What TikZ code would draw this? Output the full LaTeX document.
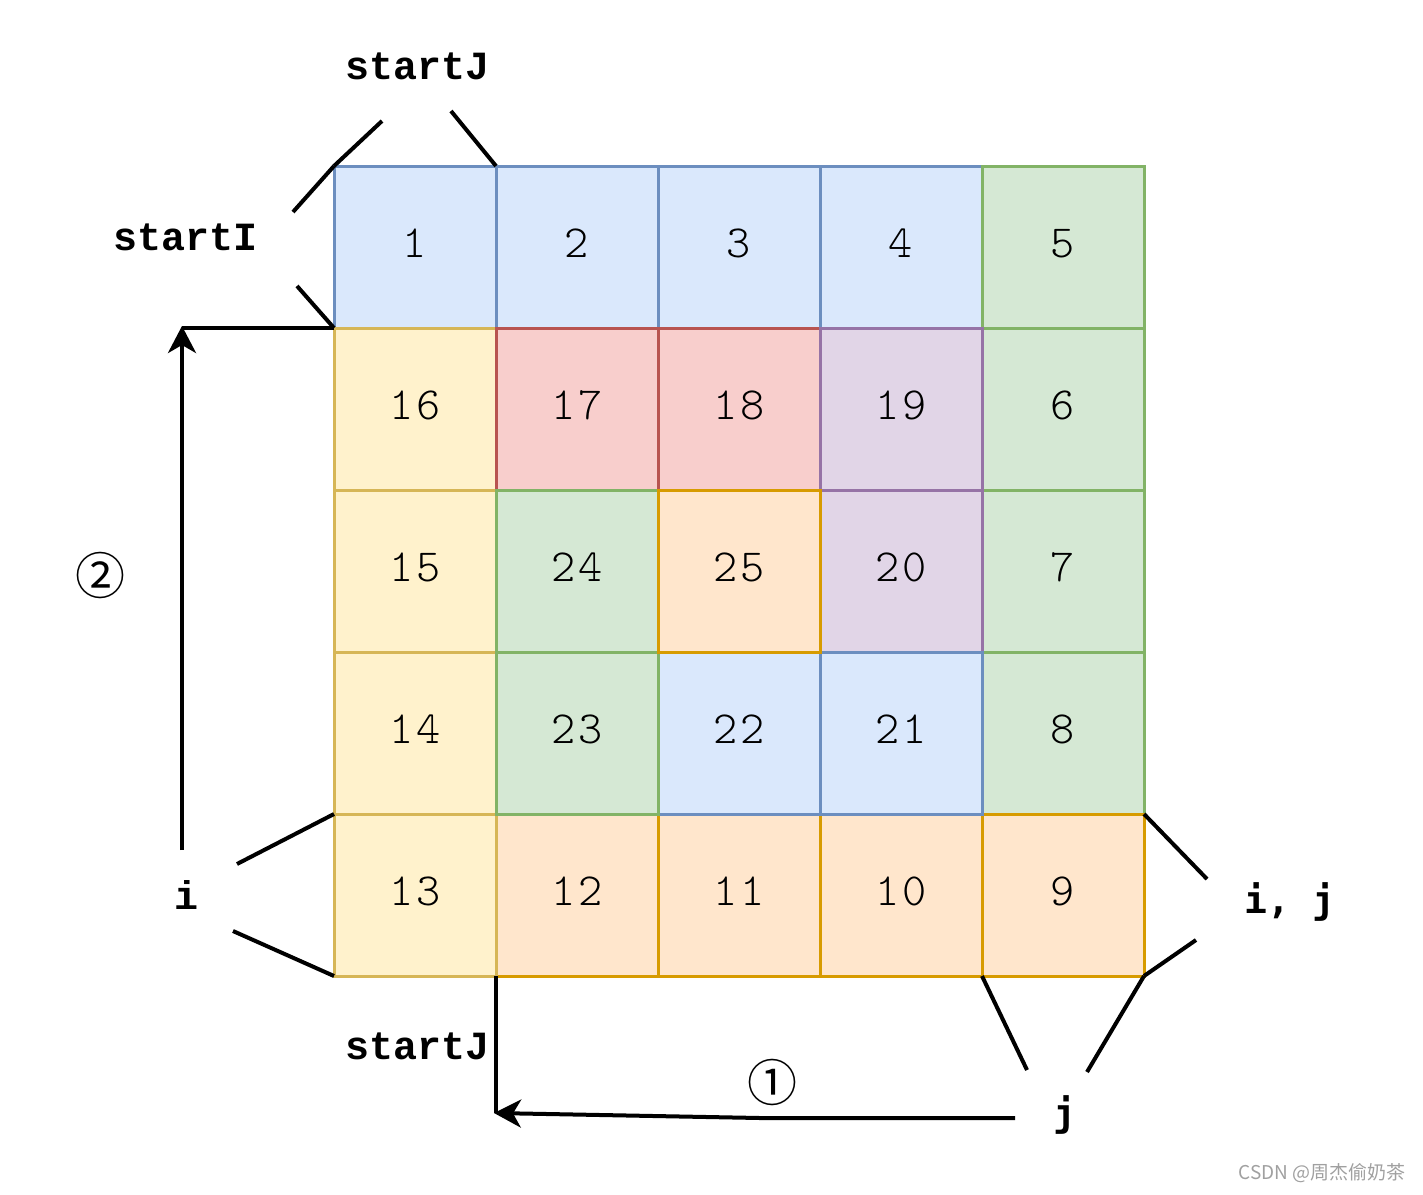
\documentclass[tikz,border=0pt]{standalone}
\usepackage{fontspec}
\usetikzlibrary{arrows.meta}
\newfontfamily\cellfont{lmmonolt10-regular}[Extension=.otf,LetterSpace=8]
\newfontfamily\lblfont{Liberation Mono}
\newfontfamily\djmono{DejaVu Sans Mono}
\newfontfamily\cjk{Noto Sans CJK SC}
\definecolor{bF}{HTML}{DAE8FC}\definecolor{bS}{HTML}{6C8EBF}
\definecolor{gF}{HTML}{D5E8D4}\definecolor{gS}{HTML}{82B366}
\definecolor{yF}{HTML}{FFF2CC}\definecolor{yS}{HTML}{D6B656}
\definecolor{rF}{HTML}{F8CECC}\definecolor{rS}{HTML}{B85450}
\definecolor{pF}{HTML}{E1D5E7}\definecolor{pS}{HTML}{9673A6}
\definecolor{oF}{HTML}{FFE6CC}\definecolor{oS}{HTML}{D79B00}
\definecolor{wm}{HTML}{A0A0A0}
\tikzset{
  cell/.style={draw=#1S,fill=#1F,line width=3pt,minimum size=162pt,inner sep=0pt,outer sep=0pt,
    text height=28pt,text depth=8pt,
    font=\cellfont\fontsize{46}{46}\selectfont},
  lbl/.style={font=\lblfont\bfseries\fontsize{40}{40}\selectfont,inner sep=0pt},
  lblb/.style={font=\djmono\bfseries\fontsize{38}{38}\selectfont,inner sep=0pt},
  circ/.style={font=\cjk\fontsize{50}{50}\selectfont,inner sep=0pt},
  ln/.style={line width=4pt},
  arr/.style={line width=4pt,-{Stealth[length=27pt,width=28pt,inset=8pt]}}
}
\begin{document}
\begin{tikzpicture}[x=1pt,y=-1pt]
\useasboundingbox (0,0) rectangle (1423,1194);
% cells in order 1..25
\node[cell=b] (c1) at (415,247) {1};
\node[cell=b] (c2) at (577,247) {2};
\node[cell=b] (c3) at (739,247) {3};
\node[cell=b] (c4) at (901,247) {4};
\node[cell=g] (c5) at (1063,247) {5};
\node[cell=g] (c6) at (1063,409) {6};
\node[cell=g] (c7) at (1063,571) {7};
\node[cell=g] (c8) at (1063,733) {8};
\node[cell=o] (c9) at (1063,895) {9};
\node[cell=o] (c10) at (901,895) {10};
\node[cell=o] (c11) at (739,895) {11};
\node[cell=o] (c12) at (577,895) {12};
\node[cell=y] (c13) at (415,895) {13};
\node[cell=y] (c14) at (415,733) {14};
\node[cell=y] (c15) at (415,571) {15};
\node[cell=y] (c16) at (415,409) {16};
\node[cell=r] (c17) at (577,409) {17};
\node[cell=r] (c18) at (739,409) {18};
\node[cell=p] (c19) at (901,409) {19};
\node[cell=p] (c20) at (901,571) {20};
\node[cell=b] (c21) at (901,733) {21};
\node[cell=b] (c22) at (739,733) {22};
\node[cell=g] (c23) at (577,733) {23};
\node[cell=g] (c24) at (577,571) {24};
\node[cell=o] (c25) at (739,571) {25};
% labels
\node[lbl] (sjt) at (418,66) {startJ};
\node[lbl] (si) at (186,237) {startI};
\node[lbl] (il) at (186,895) {i};
\node[lbl] (sjb) at (418,1046) {startJ};
\node[lblb] (ij) at (1290,902) {i, j};
\node[lblb] (jl) at (1065,1115) {j};
\node[circ] (n2) at (100,575) {②};
\node[circ] (n1) at (772,1082) {①};
\node[font=\cjk\fontsize{19}{19}\selectfont,text=wm,inner sep=0pt] (wmk) at (1322,1173) {CSDN @周杰偷奶茶};
% coordinates for free ends
\coordinate (a1) at (382,121);
\coordinate (a2) at (451,111);
\coordinate (b1) at (293,212);
\coordinate (b2) at (297,286);
\coordinate (d1) at (237,864);
\coordinate (d2) at (233,931);
\coordinate (e1) at (1207,879);
\coordinate (e2) at (1196,940);
\coordinate (f1) at (1027,1070);
\coordinate (f2) at (1087,1072);
\coordinate (up0) at (182,850);
\coordinate (up1) at (182,326);
\coordinate (lf0) at (1015,1118);
\coordinate (lfm) at (760,1118);
\coordinate (lf1) at (494,1113);
% connectors
\draw[ln] (a1) -- (c1.north west);
\draw[ln] (a2) -- (c1.north east);
\draw[ln] (b1) -- (c1.north west);
\draw[ln] (b2) -- (c1.south west);
\draw[ln] (d1) -- (c13.north west);
\draw[ln] (d2) -- (c13.south west);
\draw[ln] (e1) -- (c9.north east);
\draw[ln] (e2) -- (c9.south east);
\draw[ln] (f1) -- (c9.south west);
\draw[ln] (f2) -- (c9.south east);
\draw[ln] (c16.north west) -- (182,328);
\draw[arr] (up0) -- (up1);
\draw[ln] (c12.south west) -- (496,1113);
\draw[arr] (lf0) -- (lfm) -- (lf1);
\end{tikzpicture}
\end{document}
